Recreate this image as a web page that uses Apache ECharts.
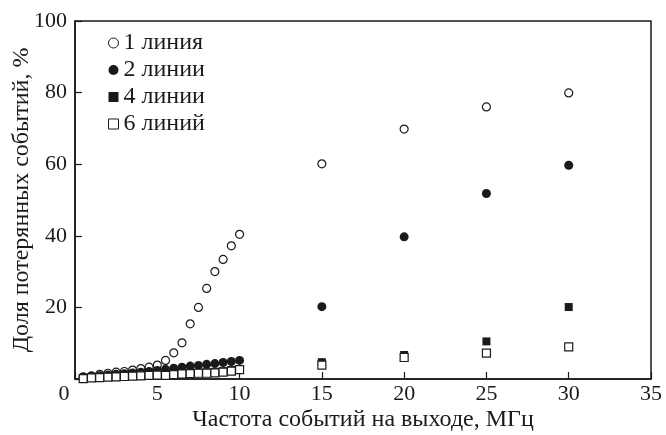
<!DOCTYPE html>
<html><head><meta charset="utf-8">
<script src="https://cdn.jsdelivr.net/npm/echarts@6/dist/echarts.min.js"></script>
<style>html,body{margin:0;padding:0;background:#fff}#c{width:666px;height:435px}</style>
</head><body><div id="c"></div>
<script>
const seriesNames = ['1 линия', '2 линии', '4 линии', '6 линий'];
const xLow = [0.5,1,1.5,2,2.5,3,3.5,4,4.5,5,5.5,6,6.5,7,7.5,8,8.5,9,9.5,10];
const xHigh = [15,20,25,30];
const line1Low = [0.6,0.9,1.3,1.6,1.9,2.1,2.5,2.9,3.3,3.9,5.2,7.3,10.1,15.4,20.0,25.3,30.0,33.4,37.2,40.4];
const line1High = [60.1,69.8,76.0,79.9];
const line2Low = [0.5,0.7,0.9,1.1,1.3,1.5,1.7,1.9,2.1,2.4,2.7,3.0,3.3,3.6,3.8,4.1,4.3,4.6,4.9,5.2];
const line2High = [20.2,39.7,51.8,59.7];
const line4Low = [0.3,0.4,0.5,0.6,0.7,0.8,0.9,1.0,1.1,1.2,1.3,1.4,1.6,1.7,1.8,1.9,2.0,2.2,2.5,2.8];
const line4High = [4.7,6.7,10.5,20.1];
const line6Low = [0.1,0.3,0.4,0.5,0.6,0.7,0.8,0.9,1.0,1.1,1.0,1.2,1.4,1.5,1.6,1.6,1.7,1.9,2.2,2.6];
const line6High = [3.9,6.0,7.2,9.0];
const xTicks = [0,5,10,15,20,25,30,35];
const yTicks = [20,40,60,80,100];

function pts(xs1, ys1, xs2, ys2){
  const out = [];
  xs1.forEach((x,i)=>out.push([x, ys1[i]]));
  xs2.forEach((x,i)=>out.push([x, ys2[i]]));
  return out;
}
const ink = '#1a1a1a';
const font = '"Liberation Serif", "Times New Roman", Times, serif';
const chart = echarts.init(document.getElementById('c'));
chart.setOption({
  animation: false,
  backgroundColor: '#fff',
  textStyle: {fontFamily: font, color: ink},
  grid: {left: 75, top: 21, right: 15, bottom: 56, containLabel: false, outerBoundsMode: 'none',
         show: true, borderColor: ink, borderWidth: 1.5, backgroundColor: 'transparent'},
  legend: {
    orient: 'vertical', left: 103, top: 26, itemGap: 3, itemWidth: 10, itemHeight: 10,
    textStyle: {fontFamily: font, fontSize: 24, color: ink, padding: [0,0,0,0]},
    data: [
      {name: seriesNames[0], icon: 'circle', itemStyle:{color:'#fff', borderColor: ink, borderWidth: 1}},
      {name: seriesNames[1], icon: 'circle'},
      {name: seriesNames[2], icon: 'rect'},
      {name: seriesNames[3], icon: 'rect', itemStyle:{color:'#fff', borderColor: ink, borderWidth: 1}}
    ]
  },
  xAxis: {
    type: 'value', min: 0, max: 35, interval: 5,
    name: 'Частота событий на выходе, МГц', nameLocation: 'middle', nameGap: 29, nameMoveOverlap: false,
    nameTextStyle: {fontFamily: font, fontSize: 24, color: ink},
    axisLine: {show: true, lineStyle: {color: ink, width: 1.5}},
    axisTick: {show: true, inside: true, length: 7, lineStyle: {color: ink, width: 1.2}},
    axisLabel: {fontFamily: font, fontSize: 22, color: ink, margin: 4,
      formatter: v => (xTicks.indexOf(v) === 0 ? '{z|' + v + '}' : String(v)),
      rich: {z: {fontFamily: font, fontSize: 22, color: ink, padding: [0, 22, 0, 0]}}},
    splitLine: {show: false}
  },
  yAxis: {
    type: 'value', min: 0, max: 100, interval: 20,
    name: 'Доля потерянных событий, %', nameLocation: 'middle', nameGap: 41, nameMoveOverlap: false,
    nameTextStyle: {fontFamily: font, fontSize: 24, color: ink},
    axisLine: {show: true, lineStyle: {color: ink, width: 1.5}},
    axisTick: {show: true, inside: true, length: 7, lineStyle: {color: ink, width: 1.2}},
    axisLabel: {fontFamily: font, fontSize: 22, color: ink, margin: 8,
      formatter: v => yTicks.indexOf(v) >= 0 ? String(v) : ''},
    splitLine: {show: false}
  },
  series: [
    {name: seriesNames[0], type: 'scatter', symbol: 'circle', symbolSize: 8,
     itemStyle: {color: '#fff', borderColor: ink, borderWidth: 1.2, opacity: 1},
     data: pts(xLow, line1Low, xHigh, line1High)},
    {name: seriesNames[1], type: 'scatter', symbol: 'circle', symbolSize: 9,
     itemStyle: {color: ink, opacity: 1},
     data: pts(xLow, line2Low, xHigh, line2High)},
    {name: seriesNames[2], type: 'scatter', symbol: 'rect', symbolSize: 8,
     itemStyle: {color: ink, opacity: 1},
     data: pts(xLow, line4Low, xHigh, line4High)},
    {name: seriesNames[3], type: 'scatter', symbol: 'rect', symbolSize: 8,
     itemStyle: {color: '#fff', borderColor: ink, borderWidth: 1.2, opacity: 1},
     data: pts(xLow, line6Low, xHigh, line6High)}
  ]
});
</script></body></html>
